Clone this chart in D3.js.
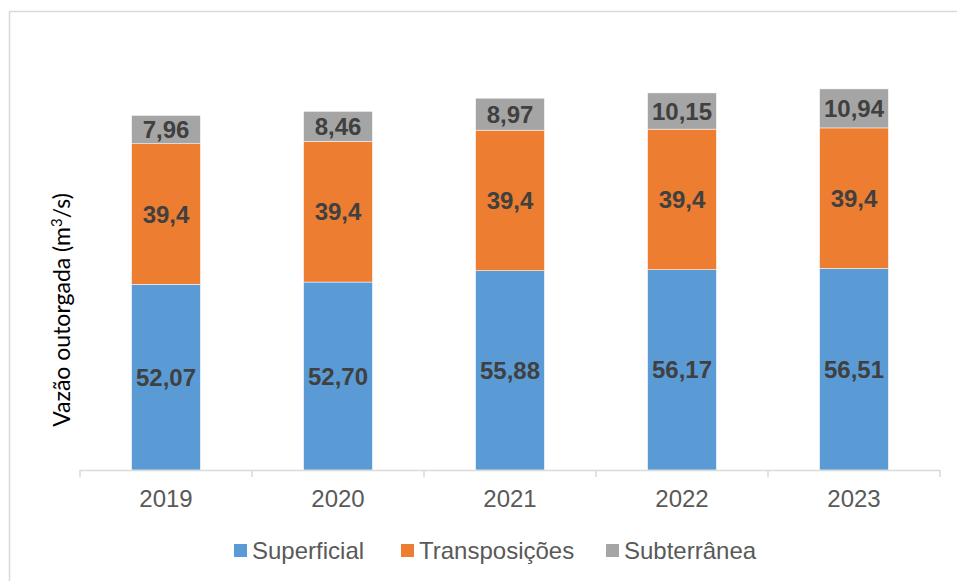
<!DOCTYPE html>
<html>
<head>
<meta charset="utf-8">
<script src="https://cdn.jsdelivr.net/npm/d3@7"></script>
<style>
  body { margin: 0; background: #fff; }
  svg { display: block; }
</style>
</head>
<body>
<div id="chart"></div>
<script>
const years = ["2019", "2020", "2021", "2022", "2023"];
const superficial = [52.07, 52.70, 55.88, 56.17, 56.51];
const transposicoes = [39.4, 39.4, 39.4, 39.4, 39.4];
const subterranea = [7.96, 8.46, 8.97, 10.15, 10.94];
const seriesNames = ["Superficial", "Transposições", "Subterrânea"];
const colors = ["#5B9BD5", "#ED7D31", "#A5A5A5"];

const width = 957, height = 581;
const svg = d3.select("#chart").append("svg")
  .attr("width", width).attr("height", height);

// chart border (cut at right/bottom like the reference)
svg.append("rect")
  .attr("x", 9.5).attr("y", 11.5)
  .attr("width", width + 20).attr("height", height + 20)
  .attr("fill", "none").attr("stroke", "#D9D9D9").attr("stroke-width", 1.5);

const table = years.map((y, i) => ({
  year: y,
  Superficial: superficial[i],
  "Transposições": transposicoes[i],
  "Subterrânea": subterranea[i]
}));

const x = d3.scaleBand().domain(years).range([80, 940]).paddingInner(0.6).paddingOuter(0.3);
const y = d3.scaleLinear().domain([0, 120]).range([470, 42]);
const fmt = v => String(v).replace(".", ",");
const fmt2 = v => v.toFixed(2).replace(".", ",");

const stack = d3.stack().keys(seriesNames)(table);

const groups = svg.selectAll(".series").data(stack).enter().append("g")
  .attr("class", "series")
  .attr("fill", (d, i) => colors[i]);

groups.selectAll("rect").data(d => d).enter().append("rect")
  .attr("x", d => x(d.data.year))
  .attr("width", x.bandwidth())
  .attr("y", d => y(d[1]))
  .attr("height", d => y(d[0]) - y(d[1]))
  .attr("stroke", "#fff").attr("stroke-width", 0.5);

groups.selectAll("text").data((d, i) => d.map(p => ({ p, key: seriesNames[i] }))).enter().append("text")
  .attr("x", d => x(d.p.data.year) + x.bandwidth() / 2)
  .attr("y", d => (y(d.p[0]) + y(d.p[1])) / 2)
  .attr("dy", "0.36em")
  .attr("text-anchor", "middle")
  .attr("font-family", "Liberation Sans, Arial, sans-serif")
  .attr("font-weight", "bold")
  .attr("font-size", "24px")
  .attr("fill", "#404040")
  .text(d => d.key === "Transposições" ? fmt(d.p.data[d.key]) : fmt2(d.p.data[d.key]));

// x axis
const axisG = svg.append("g").attr("transform", "translate(0,470)");
axisG.append("line").attr("x1", 80).attr("x2", 940).attr("y1", 0.5).attr("y2", 0.5)
  .attr("stroke", "#D9D9D9").attr("stroke-width", 1.5);
const bounds = [80].concat(years.map(d => x(d) - x.step() * x.paddingInner() / 2 + x.step()));
axisG.selectAll(".tick").data(bounds).enter().append("line")
  .attr("x1", d => d).attr("x2", d => d).attr("y1", 0).attr("y2", 7)
  .attr("stroke", "#D9D9D9").attr("stroke-width", 1.5);
axisG.selectAll(".lbl").data(years).enter().append("text")
  .attr("x", d => x(d) + x.bandwidth() / 2)
  .attr("y", 37)
  .attr("text-anchor", "middle")
  .attr("font-family", "Liberation Sans, Arial, sans-serif")
  .attr("font-size", "24px")
  .attr("fill", "#595959")
  .text(d => d);

// y label
svg.append("text")
  .attr("transform", "translate(70,310) rotate(-90)")
  .attr("text-anchor", "middle")
  .attr("font-family", "Lato, 'Open Sans', sans-serif")
  .attr("font-size", "23px")
  .attr("fill", "#000")
  .html("Vazão outorgada (m<tspan dy='-8' font-size='15px'>3</tspan><tspan dy='8'>/s)</tspan>");

// legend
const legendX = [234, 401, 606];
const leg = svg.selectAll(".leg").data(seriesNames).enter().append("g")
  .attr("transform", (d, i) => `translate(${legendX[i]},544)`);
leg.append("rect").attr("width", 13).attr("height", 13).attr("fill", (d, i) => colors[i]);
leg.append("text").attr("x", 18).attr("y", 6.5).attr("dy", "0.36em")
  .attr("font-family", "Liberation Sans, Arial, sans-serif")
  .attr("font-size", "24px").attr("fill", "#595959")
  .text(d => d);
</script>
</body>
</html>
